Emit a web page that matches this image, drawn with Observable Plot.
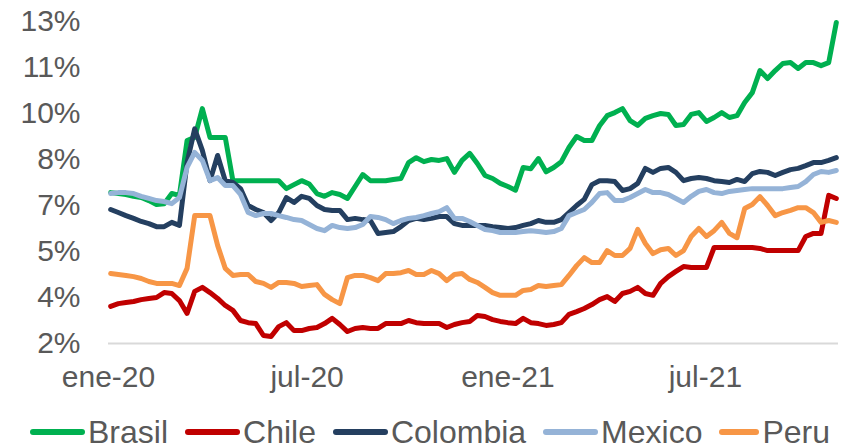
<!DOCTYPE html>
<html><head><meta charset="utf-8">
<script src="https://cdn.jsdelivr.net/npm/d3@7"></script>
<script src="https://cdn.jsdelivr.net/npm/@observablehq/plot@0.6"></script>
<style>
body{margin:0;background:#fff;font-family:"Liberation Sans",Arial,sans-serif;}
#chart{width:860px;height:448px;overflow:hidden;}
.legend{display:flex;align-items:center;height:40px;margin-top:12px;padding-left:30px;font-size:32px;color:#595959;white-space:nowrap;}
.item{display:flex;align-items:center;margin-right:17px;}
.item svg{margin-right:3px;}
</style></head><body><div id="chart"></div>
<script>
const series = ["Brasil","Chile","Colombia","Mexico","Peru"];
const colors = ["#00B050","#C00000","#243F60","#95B3D7","#F79646"];

// weekly observations (Fridays), 2020-01-03 .. 2021-10-29
const weeks = d3.utcFriday.range(new Date(Date.UTC(2020,0,3)), new Date(Date.UTC(2021,10,1)));

const brasil = [6.92,6.89,6.86,6.8,6.76,6.66,6.53,6.56,6.89,6.83,
 8.62,8.72,9.66,8.72,8.72,8.72,7.31,7.31,7.31,7.31,
 7.31,7.31,7.31,7.05,7.18,7.31,7.2,6.89,6.8,6.92,
 6.86,6.73,7.12,7.51,7.31,7.31,7.31,7.35,7.38,7.9,
 8.06,7.93,8.0,7.97,8.03,7.58,7.97,8.2,7.87,7.48,
 7.38,7.22,7.12,7.0,7.74,7.7,8.03,7.6,7.74,7.93,
 8.39,8.75,8.62,8.62,9.1,9.43,9.53,9.66,9.27,9.11,
 9.34,9.43,9.5,9.47,9.11,9.14,9.47,9.53,9.24,9.37,
 9.53,9.37,9.43,9.86,10.18,10.9,10.64,10.9,11.13,11.16,
 10.97,11.16,11.16,11.06,11.16,12.47];
const chile = [3.21,3.3,3.34,3.37,3.43,3.47,3.5,3.66,3.63,3.4,
 2.98,3.7,3.83,3.66,3.47,3.24,3.08,2.75,2.68,2.65,
 2.26,2.23,2.55,2.68,2.42,2.42,2.49,2.52,2.65,2.82,
 2.62,2.39,2.49,2.52,2.49,2.49,2.65,2.65,2.65,2.75,
 2.68,2.65,2.65,2.65,2.52,2.62,2.68,2.72,2.91,2.88,
 2.78,2.72,2.68,2.65,2.82,2.68,2.65,2.59,2.62,2.68,
 2.95,3.04,3.14,3.27,3.43,3.53,3.37,3.63,3.7,3.83,
 3.63,3.57,3.96,4.18,4.35,4.51,4.48,4.48,4.48,5.13,
 5.13,5.13,5.13,5.13,5.13,5.1,5.03,5.03,5.03,5.03,
 5.03,5.49,5.59,5.59,6.83,6.73];
const colombia = [6.37,6.27,6.17,6.08,5.98,5.91,5.81,5.81,5.95,5.85,
 7.9,9.0,8.3,7.31,8.13,7.31,7.25,7.05,6.5,6.37,
 6.27,6.01,6.27,6.76,6.6,6.8,6.73,6.5,6.37,6.34,
 6.34,6.04,6.08,6.04,6.01,5.59,5.62,5.65,5.81,6.01,
 6.08,6.04,6.08,6.14,6.14,5.91,5.85,5.85,5.85,5.85,
 5.81,5.78,5.75,5.78,5.85,5.91,6.01,5.95,5.95,6.04,
 6.27,6.5,6.7,7.18,7.31,7.31,7.28,6.99,7.05,7.22,
 7.71,7.58,7.71,7.74,7.58,7.31,7.38,7.41,7.38,7.31,
 7.28,7.25,7.35,7.28,7.54,7.61,7.58,7.48,7.58,7.67,
 7.71,7.8,7.9,7.9,7.97,8.06];
const mexico = [6.89,6.92,6.92,6.89,6.8,6.73,6.66,6.63,6.56,6.76,
 7.74,8.23,7.97,7.31,7.41,7.15,7.15,6.86,6.27,6.17,
 6.24,6.24,6.17,6.11,6.04,6.01,5.88,5.75,5.68,5.85,
 5.78,5.75,5.78,5.88,6.14,6.11,6.04,5.91,6.01,6.08,
 6.11,6.17,6.24,6.3,6.43,6.08,6.08,5.98,5.85,5.72,
 5.68,5.62,5.62,5.62,5.65,5.68,5.65,5.62,5.65,5.75,
 6.17,6.27,6.37,6.6,6.89,6.92,6.66,6.66,6.76,6.89,
 7.02,6.92,6.92,6.86,6.73,6.6,6.8,6.96,7.02,6.92,
 6.89,6.96,6.99,7.02,7.05,7.05,7.05,7.05,7.05,7.09,
 7.12,7.28,7.51,7.61,7.58,7.64];
const peru = [4.28,4.25,4.22,4.18,4.12,4.02,3.96,3.96,3.96,3.89,
 4.45,6.17,6.17,6.17,5.2,4.45,4.22,4.25,4.25,4.02,
 3.96,3.83,3.99,3.99,3.96,3.86,3.89,3.92,3.6,3.43,
 3.3,4.15,4.22,4.22,4.15,4.05,4.28,4.28,4.31,4.38,
 4.25,4.25,4.38,4.28,4.05,4.25,4.28,4.09,3.99,3.83,
 3.66,3.57,3.57,3.57,3.73,3.76,3.89,3.86,3.89,3.92,
 4.22,4.54,4.8,4.64,4.64,5.03,4.87,4.87,5.1,5.72,
 5.26,4.93,5.06,5.1,4.87,5.03,5.49,5.75,5.49,5.68,
 5.95,5.59,5.45,6.4,6.53,6.79,6.5,6.17,6.27,6.34,
 6.43,6.43,6.27,5.95,6.01,5.95];

const yTicks = [2, 3.5, 5, 6.5, 8, 9.5, 11, 12.5];
const yLabels = ["2%","4%","5%","7%","8%","10%","11%","13%"];
const xTicks = [new Date(Date.UTC(2020,0,1)), new Date(Date.UTC(2020,6,1)), new Date(Date.UTC(2021,0,1)), new Date(Date.UTC(2021,6,1))];
const xLabels = ["ene-20","jul-20","ene-21","jul-21"];

const values = [brasil, chile, colombia, mexico, peru];
const rows = series.flatMap((s, k) => values[k].map((v, i) => ({date: weeks[i], value: v, pais: s})));

const chart = Plot.plot({
  width: 860, height: 400,
  marginLeft: 108, marginRight: 22, marginTop: 21, marginBottom: 57,
  style: {fontSize: "30px", fontFamily: "'Liberation Sans', Arial, sans-serif", color: "#595959", background: "#fff"},
  x: {type: "utc", domain: [new Date(Date.UTC(2020,0,1)), new Date(Date.UTC(2021,9,31))],
      ticks: xTicks, tickFormat: d => xLabels[xTicks.findIndex(t => +t === +d)], tickSize: 0, tickPadding: 22, label: null},
  y: {domain: [2, 12.5], ticks: yTicks, tickFormat: d => yLabels[yTicks.indexOf(d)], tickSize: 0, tickPadding: 28, label: null},
  color: {domain: series, range: colors},
  marks: [
    Plot.ruleY([2], {stroke: "#d9d9d9", strokeWidth: 2}),
    Plot.line(rows, {x: "date", y: "value", z: "pais", stroke: "pais", strokeWidth: 5, strokeLinejoin: "round", strokeLinecap: "round"})
  ]
});
const root = document.getElementById("chart");
root.appendChild(chart);

const legend = document.createElement("div");
legend.className = "legend";
series.forEach((s, k) => {
  const item = document.createElement("div");
  item.className = "item";
  const w = s === "Peru" ? 40 : 55;
  item.innerHTML = `<svg width="${w}" height="8"><line x1="3" y1="4" x2="${w-3}" y2="4" stroke="${colors[k]}" stroke-width="6" stroke-linecap="round"/></svg><span>${s}</span>`;
  legend.appendChild(item);
});
root.appendChild(legend);
</script></body></html>
